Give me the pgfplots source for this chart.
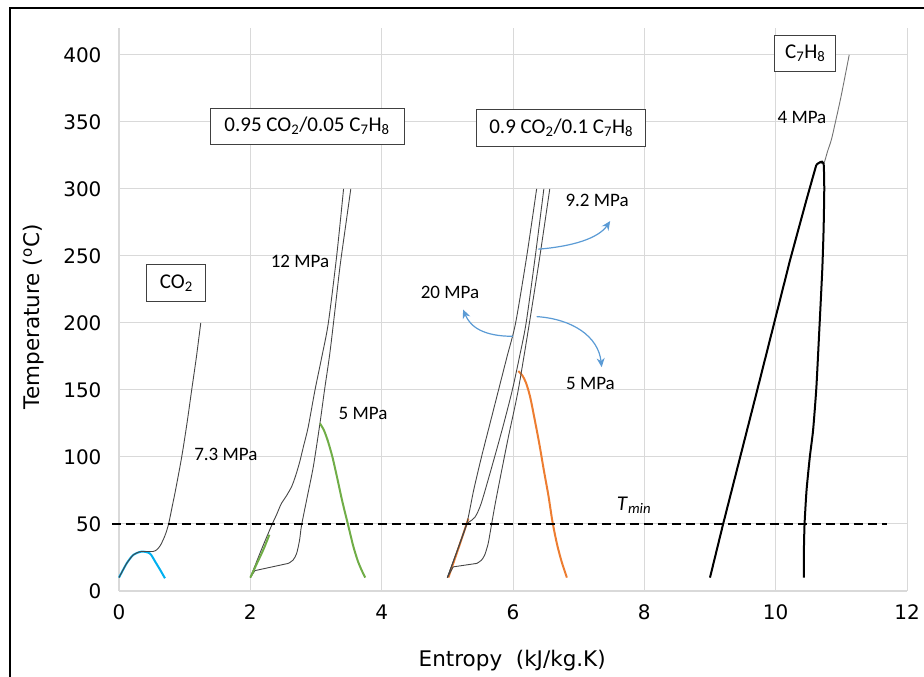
\documentclass[border=0pt]{standalone}
\usepackage{fontspec}
\setmainfont{Carlito}
\newfontfamily\verd{DejaVu Sans}
\usepackage{pgfplots}
\pgfplotsset{compat=1.18}
\usetikzlibrary{arrows.meta}

\definecolor{gridgray}{RGB}{217,217,217}
\definecolor{domeblue}{RGB}{0,176,240}
\definecolor{domegreen}{RGB}{112,173,71}
\definecolor{domeorange}{RGB}{237,125,49}
\definecolor{arrowblue}{RGB}{91,155,213}
\definecolor{isogray}{RGB}{70,70,70}

\tikzset{
  iso/.style={isogray, line width=0.9pt, smooth, tension=0.45},
  dome/.style={line width=2pt, smooth, tension=0.45},
  lab/.style={font=\fontsize{19}{22}\selectfont, inner sep=0pt},
  box/.style={draw=black!75, line width=1pt, fill=white, inner sep=0pt,
    font=\fontsize{21}{24}\selectfont},
  arr/.style={arrowblue, line width=1.2pt, -{Stealth[length=9pt, width=8pt]}},
}

\begin{document}
\begin{tikzpicture}
\begin{axis}[
  scale only axis, width=788pt, height=563pt,
  xmin=0, xmax=12, ymin=0, ymax=420,
  xtick={0,2,...,12}, ytick={0,50,...,400},
  grid=major, major grid style={gridgray, line width=1pt},
  axis x line=bottom, axis y line=left,
  axis line style={gridgray, line width=1.3pt, -},
  major tick length=0pt,
  tick label style={font=\verd\fontsize{20}{24}\selectfont,
    /pgf/number format/assume math mode=true},
  yticklabel style={anchor=east, xshift=-14pt},
  xticklabel style={anchor=north, yshift=-10pt},
  xlabel={Entropy\ \ (kJ/kg.K)},
  ylabel={Temperature (\textsuperscript{o}C)},
  label style={font=\verd\fontsize{21.5}{25}\selectfont},
  xlabel style={at={(axis description cs:0.499,-0.124)}, anchor=center},
  ylabel style={at={(axis description cs:-0.1085,0.487)}, anchor=center},
  clip=false,
]
% ---- CO2 ----
\addplot[dome, domeblue] coordinates {
 (0,10)(0.117,20.6)(0.218,26.9)(0.345,29.4)(0.47,28)(0.55,22)(0.63,15.5)(0.70,9.5)};
\addplot[iso] coordinates {
 (0,10)(0.117,20.6)(0.218,26.9)(0.30,29)(0.345,29.5)(0.52,29.5)(0.58,31)
 (0.63,34)(0.68,39)(0.72,44)(0.76,51)(0.81,63)(0.86,75)(0.955,100)(1.035,125)
 (1.107,150)(1.18,175)(1.245,200)};

% ---- 0.95 CO2 / 0.05 C7H8 ----
\addplot[iso] coordinates {
 (2.0,10)(2.17,31)(2.325,49)(2.40,57)(2.47,65)(2.55,71)(2.63,78)(2.69,86)
 (2.75,96)(2.81,108)(2.88,122)(2.985,150)(3.09,175)(3.188,200)(3.315,250)(3.42,300)};
\addplot[iso, sharp plot] coordinates {
 (2.0,10)(2.07,15.2)(2.578,20.6)};
\addplot[iso] coordinates {
 (2.578,20.6)(2.65,23)(2.705,28)(2.75,38)(2.78,49)(2.866,70)(2.96,93)
 (3.06,125)(3.13,150)(3.21,177)(3.29,210)(3.365,242)(3.45,272)(3.53,300)};
\addplot[dome, domegreen] coordinates {(2.0,10)(2.1,20.5)(2.2,31)(2.29,42)};
\addplot[dome, domegreen] coordinates {
 (3.06,125)(3.12,120)(3.18,112)(3.25,100)(3.32,85)(3.40,67)(3.49,49)
 (3.57,33)(3.64,22)(3.70,15)(3.75,10)};

% ---- 0.9 CO2 / 0.1 C7H8 ----
\addplot[dome, domeorange] coordinates {(5.015,10)(5.17,32)(5.32,54)};
\addplot[dome, domeorange] coordinates {
 (6.08,164)(6.14,161)(6.20,155)(6.26,145)(6.33,128)(6.40,110)(6.47,90)
 (6.54,71)(6.60,52)(6.67,35)(6.74,22)(6.82,10)};
\addplot[iso] coordinates {
 (5.0,10)(5.15,30)(5.295,50)(5.40,75)(5.52,100)(5.65,125)(5.78,150)
 (5.91,175)(6.04,200)(6.21,250)(6.36,300)};
\addplot[iso] coordinates {
 (5.0,10)(5.15,30)(5.28,48)(5.33,51.5)(5.42,55)(5.52,66)(5.72,100)
 (5.86,125)(5.99,150)(6.10,175)(6.20,200)(6.34,250)(6.47,300)};
\addplot[iso, sharp plot] coordinates {(5.0,10)(5.09,18)(5.45,20.6)};
\addplot[iso] coordinates {
 (5.45,20.6)(5.52,23)(5.57,27)(5.62,35)(5.65,43)(5.725,64)(5.82,88)
 (5.93,115)(6.08,150)(6.25,200)(6.41,250)(6.56,300)};

% ---- C7H8 ----
\addplot[iso, black!55] coordinates {
 (9.0,10)(9.2,50)(9.72,150)(10.22,247)(10.47,292)(10.62,318)(10.73,319)
 (10.79,328)(10.85,337)(10.92,352)(11.0,370)(11.12,400)};
\addplot[dome, black, sharp plot] coordinates {
 (9.0,10)(9.2,50)(9.72,150)(10.22,247)(10.47,292)(10.62,318)};
\addplot[dome, black, tension=0.35] coordinates {
 (10.62,318)(10.68,320)(10.73,319)(10.74,300)(10.73,270)(10.71,240)(10.67,200)
 (10.62,152)(10.57,120)(10.52,100)(10.47,75)(10.44,50)(10.43,30)(10.43,10)};

% ---- T_min ----
\addplot[black, line width=1.8pt, dash pattern=on 9pt off 5pt] coordinates {(-0.11,50)(11.7,50)};

% ---- labels ----
\node[box, minimum width=59pt, minimum height=37pt] at (axis cs:0.873,229.6) {CO\textsubscript{2}};
\node[box, minimum width=194pt, minimum height=36pt] at (axis cs:2.863,346.8) {0.95 CO\textsubscript{2}/0.05 C\textsubscript{7}H\textsubscript{8}};
\node[box, minimum width=169pt, minimum height=37pt] at (axis cs:6.735,345.7) {0.9 CO\textsubscript{2}/0.1 C\textsubscript{7}H\textsubscript{8}};
\node[box, minimum width=61pt, minimum height=36pt] at (axis cs:10.45,401.3) {C\textsubscript{7}H\textsubscript{8}};

\node[lab] at (axis cs:1.627,102.2) {7.3 MPa};
\node[lab] at (axis cs:2.756,245.7) {12 MPa};
\node[lab] at (axis cs:3.716,132.6) {5 MPa};
\node[lab] at (axis cs:5.04,222.6) {20 MPa};
\node[lab] at (axis cs:7.28,291.3) {9.2 MPa};
\node[lab] at (axis cs:7.18,154.5) {5 MPa};
\node[lab] at (axis cs:10.40,353.4) {4 MPa};
\node[anchor=base west, inner sep=0pt, font=\fontsize{21}{24}\selectfont]
  at (axis cs:7.58,60.4) {\textit{T}\textsubscript{\textit{min}}};

% ---- arrows ----
\draw[arr] (axis cs:6.0,190) .. controls (axis cs:5.55,190) and (axis cs:5.35,197) .. (axis cs:5.24,210);
\draw[arr] (axis cs:6.385,255) .. controls (axis cs:6.9,257) and (axis cs:7.3,263) .. (axis cs:7.48,276);
\draw[arr] (axis cs:6.36,204.7) .. controls (axis cs:6.9,203) and (axis cs:7.3,190) .. (axis cs:7.35,167);
\end{axis}
\draw[line width=1.3pt] (-109pt,-90pt) -- (-109pt,583pt) -- (810pt,583pt);
\pgfresetboundingbox
\useasboundingbox (-119pt,-86pt) rectangle (805pt,591pt);
\end{tikzpicture}
\end{document}
